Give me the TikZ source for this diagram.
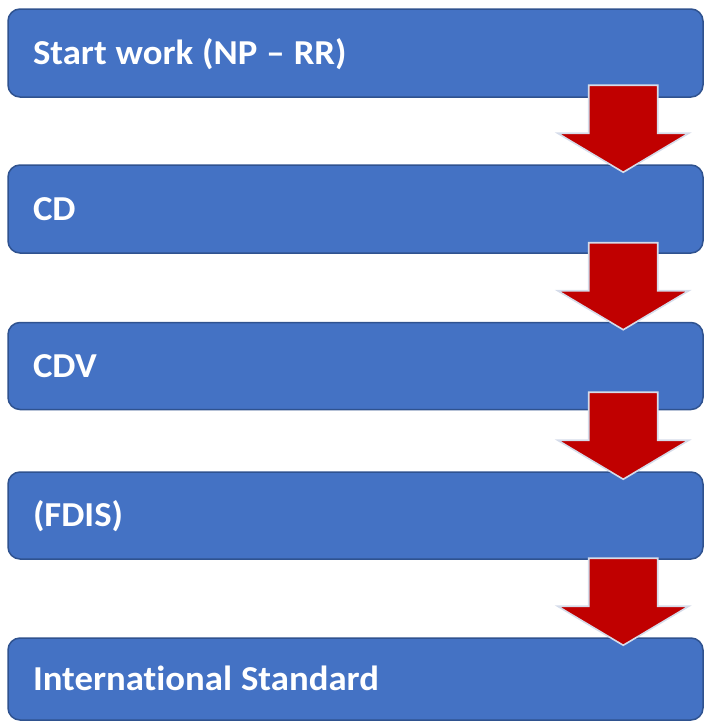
\documentclass[tikz,border=0pt]{standalone}
\usepackage{fontspec}
\setmainfont{Carlito}[Ligatures=NoCommon, FakeStretch=1.05]
\usetikzlibrary{calc}
\definecolor{boxblue}{HTML}{4472C4}
\definecolor{boxline}{HTML}{2F528F}
\definecolor{arrred}{HTML}{C00000}
\definecolor{arredge}{HTML}{D5DCEA}
\newcommand\boxfont{\bfseries\fontsize{35}{35}\selectfont}
\newcommand\gap{\hspace{9pt}}
\newcommand\downblock[2]{%
  \path[arr] let \p1=(#1.north east), \p2=(#2.north east) in
    ({\x2-80.5pt-34.5pt},{\y2+79pt}) -- ({\x2-80.5pt+34.5pt},{\y2+79pt})
    -- ({\x2-80.5pt+34.5pt},{\y2+31pt}) -- ({\x2-80.5pt+65.5pt},{\y2+31pt})
    -- ({\x2-80.5pt},{\y2-8pt}) -- ({\x2-80.5pt-65.5pt},{\y2+31pt})
    -- ({\x2-80.5pt-34.5pt},{\y2+31pt}) -- cycle;}
\begin{document}
\begin{tikzpicture}[x=1pt,y=-1pt,
  box/.style={draw=boxline, fill=boxblue, line width=1.5pt, rounded corners=12pt,
    minimum width=695pt, inner xsep=25pt, inner ysep=0pt, text width=645pt, align=left,
    text=white, font=\boxfont, text height=22pt, text depth=0pt},
  arr/.style={fill=arrred, draw=arredge, line width=1.6pt, line join=miter}]
\useasboundingbox (0,0) rectangle (705,721);
\node[box, minimum height=88pt] (b1) at (355.5,53) {Start\gap work\gap (NP\gap –\gap RR)};
\node[box, minimum height=88pt] (b2) at (355.5,209) {CD};
\node[box, minimum height=87pt] (b3) at (355.5,366) {CDV};
\node[box, minimum height=87pt] (b4) at (355.5,515.5) {(FDIS)};
\node[box, minimum height=82pt] (b5) at (355.5,679) {International\gap Standard};
\downblock{b1}{b2}
\downblock{b2}{b3}
\downblock{b3}{b4}
\downblock{b4}{b5}
\end{tikzpicture}
\end{document}
